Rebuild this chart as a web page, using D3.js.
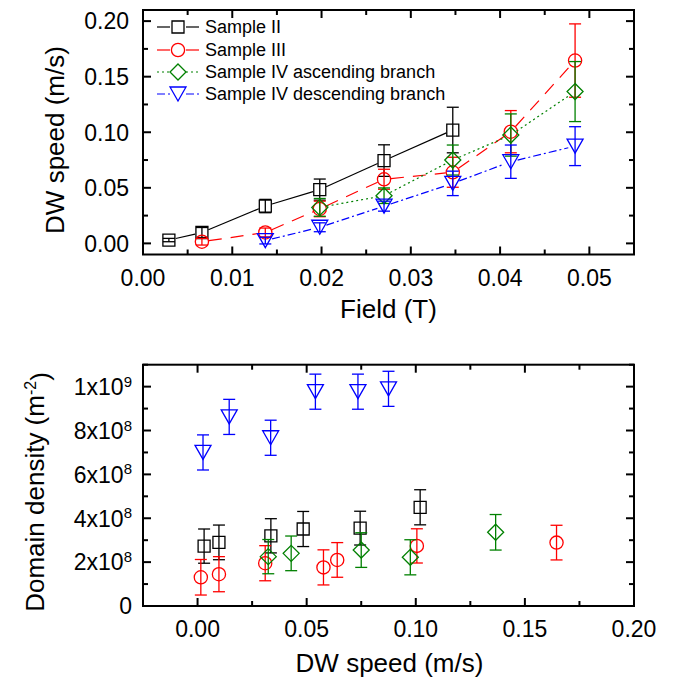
<!DOCTYPE html>
<html>
<head>
<meta charset="utf-8">
<script src="https://cdn.jsdelivr.net/npm/d3@7"></script>
<style>
  body { margin: 0; background: #fff; }
  svg { font-family: 'Liberation Sans', Arial, sans-serif; }
</style>
</head>
<body>
<div id="chart"></div>
<script>
'use strict';

//sample II  (field in T, speed in m/s, density in m^-2)
let fieldII     = [0.0029, 0.0066, 0.0137, 0.0198, 0.0270, 0.0347];
let speedII     = [0.0030, 0.0098, 0.0336, 0.0484, 0.0745, 0.1020];
let speedErrII  = [0.0015, 0.0045, 0.0060, 0.0095, 0.0142, 0.0205];
let densII      = [2.73e8, 2.90e8, 3.20e8, 3.51e8, 3.55e8, 4.50e8];
let densErrII   = [0.78e8, 0.79e8, 0.78e8, 0.80e8, 0.77e8, 0.80e8];

//sample III
let fieldIII    = [0.0066, 0.0137, 0.0198, 0.0270, 0.0347, 0.0412, 0.0484];
let speedIII    = [0.0015, 0.0098, 0.0310, 0.0577, 0.0640, 0.1005, 0.1645];
let speedErrIII = [0.0030, 0.0040, 0.0070, 0.0090, 0.0135, 0.0190, 0.0330];
let densIII     = [1.31e8, 1.45e8, 1.95e8, 1.76e8, 2.10e8, 2.74e8, 2.89e8];
let densErrIII  = [0.81e8, 0.80e8, 0.80e8, 0.80e8, 0.79e8, 0.78e8, 0.79e8];

//sample IV ascending branch
let fieldIVa    = [0.0198, 0.0270, 0.0347, 0.0412, 0.0484];
let speedIVa    = [0.0324, 0.0429, 0.0750, 0.0975, 0.1366];
let speedErrIVa = [0.0080, 0.0070, 0.0135, 0.0190, 0.0270];
let densIVa     = [2.25e8, 2.40e8, 2.55e8, 2.22e8, 3.36e8];
let densErrIVa  = [0.78e8, 0.79e8, 0.79e8, 0.80e8, 0.81e8];

//sample IV descending branch
let fieldIVd    = [0.0137, 0.0198, 0.0270, 0.0347, 0.0412, 0.0484];
let speedIVd    = [0.0025, 0.0145, 0.0335, 0.0540, 0.0735, 0.0875];
let speedErrIVd = [0.0030, 0.0040, 0.0045, 0.0110, 0.0150, 0.0175];
let densIVd     = [7.00e8, 8.62e8, 7.67e8, 9.77e8, 9.77e8, 9.90e8];
let densErrIVd  = [0.80e8, 0.80e8, 0.80e8, 0.80e8, 0.80e8, 0.80e8];

//axis ticks
let fieldTicks  = [0, 0.01, 0.02, 0.03, 0.04, 0.05];
let speedTicks  = [0, 0.05, 0.10, 0.15, 0.20];
let speedTicksB = [0, 0.05, 0.10, 0.15, 0.20];
let densTicks   = [0, 2e8, 4e8, 6e8, 8e8, 1e9];
let densLabels  = [['0', ''], ['2x10', '8'], ['4x10', '8'], ['6x10', '8'], ['8x10', '8'], ['1x10', '9']];

let seriesNames = ['Sample II', 'Sample III', 'Sample IV ascending branch', 'Sample IV descending branch'];

let series = [
  {name: seriesNames[0], field: fieldII,  speed: speedII,  sErr: speedErrII,  dens: densII,  dErr: densErrII,  color: '#000000', shape: 'square',   dash: null},
  {name: seriesNames[1], field: fieldIII, speed: speedIII, sErr: speedErrIII, dens: densIII, dErr: densErrIII, color: '#ff0000', shape: 'circle',   dash: '13,9'},
  {name: seriesNames[2], field: fieldIVa, speed: speedIVa, sErr: speedErrIVa, dens: densIVa, dErr: densErrIVa, color: '#008000', shape: 'diamond',  dash: '2,3'},
  {name: seriesNames[3], field: fieldIVd, speed: speedIVd, sErr: speedErrIVd, dens: densIVd, dErr: densErrIVd, color: '#0000ff', shape: 'triangle', dash: '8,3,2,3'}
];

let svg = d3.select('#chart').append('svg').attr('width', 676).attr('height', 681);

//scales
let xTop = d3.scaleLinear().domain([0, 0.055]).range([143, 634]);
let yTop = d3.scaleLinear().domain([-0.01, 0.21]).range([254.5, 10]);
let xBot = d3.scaleLinear().domain([-0.025, 0.20]).range([143, 634]);
let yBot = d3.scaleLinear().domain([0, 1.1e9]).range([606, 364.7]);

//marker outline centred on 0,0
function markerPath(shape) {
  if (shape === 'square')   return 'M-6,-6H6V6H-6Z';
  if (shape === 'circle')   return 'M6.6,0A6.6,6.6 0 1,1 -6.6,0A6.6,6.6 0 1,1 6.6,0Z';
  if (shape === 'diamond')  return 'M0,-8L8,0L0,8L-8,0Z';
  return 'M-8,-7L8,-7L0,7Z';   //down triangle
}

//mirrored frame with inward ticks
function drawFrame(x, y, xMajor, xMinor, yMajor, yMinor) {
  let x0 = x.range()[0], x1 = x.range()[1];
  let y0 = y.range()[0], y1 = y.range()[1];
  let g = svg.append('g');

  let ticks = [];
  xMajor.forEach(v => ticks.push({x1: x(v), y1: y0, x2: x(v), y2: y0 - 8}, {x1: x(v), y1: y1, x2: x(v), y2: y1 + 8}));
  xMinor.forEach(v => ticks.push({x1: x(v), y1: y0, x2: x(v), y2: y0 - 5}, {x1: x(v), y1: y1, x2: x(v), y2: y1 + 5}));
  yMajor.forEach(v => ticks.push({x1: x0, y1: y(v), x2: x0 + 8, y2: y(v)}, {x1: x1, y1: y(v), x2: x1 - 8, y2: y(v)}));
  yMinor.forEach(v => ticks.push({x1: x0, y1: y(v), x2: x0 + 5, y2: y(v)}, {x1: x1, y1: y(v), x2: x1 - 5, y2: y(v)}));

  g.selectAll('line').data(ticks).join('line')
    .attr('x1', d => d.x1).attr('y1', d => d.y1).attr('x2', d => d.x2).attr('y2', d => d.y2)
    .attr('stroke', 'black').attr('stroke-width', 2);

  g.append('rect').attr('x', x0).attr('y', y1).attr('width', x1 - x0).attr('height', y0 - y1)
    .attr('fill', 'none').attr('stroke', 'black').attr('stroke-width', 2);
}

//error bars + markers
function drawPoints(g, xs, ys, errs, x, y, s) {
  let pts = xs.map((v, i) => ({x: x(v), y: y(ys[i]), lo: y(ys[i] - errs[i]), hi: y(ys[i] + errs[i])}));
  let eb = g.append('g').attr('stroke', s.color).attr('stroke-width', 1.3);
  pts.forEach(p => {
    eb.append('line').attr('x1', p.x).attr('x2', p.x).attr('y1', p.lo).attr('y2', p.hi);
    eb.append('line').attr('x1', p.x - 6).attr('x2', p.x + 6).attr('y1', p.lo).attr('y2', p.lo);
    eb.append('line').attr('x1', p.x - 6).attr('x2', p.x + 6).attr('y1', p.hi).attr('y2', p.hi);
  });
  g.selectAll(null).data(pts).join('path')
    .attr('d', markerPath(s.shape))
    .attr('transform', d => `translate(${d.x},${d.y})`)
    .attr('fill', 'none').attr('stroke', s.color).attr('stroke-width', 1.3);
  return pts;
}

//line with a gap round each symbol (like origin does)
function drawGapLine(g, pts, s) {
  let gap = 7;
  for (let i = 0; i < pts.length - 1; i++) {
    let a = pts[i], b = pts[i + 1];
    let dx = b.x - a.x, dy = b.y - a.y;
    let len = Math.sqrt(dx * dx + dy * dy);
    if (len <= 2 * gap) continue;
    let ux = dx / len, uy = dy / len;
    g.append('line')
      .attr('x1', a.x + ux * gap).attr('y1', a.y + uy * gap)
      .attr('x2', b.x - ux * gap).attr('y2', b.y - uy * gap)
      .attr('stroke', s.color).attr('stroke-width', 1.2)
      .attr('stroke-dasharray', s.dash);
  }
}

/*------------------------------------- top panel : speed vs field -------------------------------------*/
let gTop = svg.append('g');
series.forEach(s => {
  let pts = s.field.map((v, i) => ({x: xTop(v), y: yTop(s.speed[i])}));
  drawGapLine(gTop, pts, s);
  drawPoints(gTop, s.field, s.speed, s.sErr, xTop, yTop, s);
});

drawFrame(xTop, yTop, fieldTicks, [0.005, 0.015, 0.025, 0.035, 0.045], speedTicks, [0.025, 0.075, 0.125, 0.175]);

//tick labels
svg.append('g').selectAll('text').data(fieldTicks).join('text')
  .attr('x', d => xTop(d)).attr('y', 285.5).attr('text-anchor', 'middle')
  .style('font-size', '23px').text(d => d3.format('.2f')(d));
svg.append('g').selectAll('text').data(speedTicks).join('text')
  .attr('x', 129).attr('y', d => yTop(d)).attr('dy', '0.36em').attr('text-anchor', 'end')
  .style('font-size', '23px').text(d => d3.format('.2f')(d));

svg.append('text').attr('x', 388.5).attr('y', 318).attr('text-anchor', 'middle')
  .style('font-size', '26px').text('Field (T)');
svg.append('text').attr('transform', 'translate(64,140) rotate(-90)').attr('text-anchor', 'middle')
  .style('font-size', '26px').text('DW speed (m/s)');

//legend
let legY = [27, 50, 72, 94];
series.forEach((s, i) => {
  let lg = svg.append('g').attr('transform', `translate(0,${legY[i]})`);
  lg.append('line').attr('x1', 157).attr('x2', 170).attr('y1', 0).attr('y2', 0)
    .attr('stroke', s.color).attr('stroke-width', 1.2).attr('stroke-dasharray', s.dash === '13,9' ? null : s.dash);
  lg.append('line').attr('x1', 186).attr('x2', 199).attr('y1', 0).attr('y2', 0)
    .attr('stroke', s.color).attr('stroke-width', 1.2).attr('stroke-dasharray', s.dash === '13,9' ? null : s.dash);
  lg.append('path').attr('d', markerPath(s.shape)).attr('transform', 'translate(178,0)')
    .attr('fill', 'none').attr('stroke', s.color).attr('stroke-width', 1.3);
  lg.append('text').attr('x', 205).attr('y', 0).attr('dy', '0.36em')
    .style('font-size', '18px').text(s.name);
});

/*------------------------------------- bottom panel : density vs speed -------------------------------------*/
let gBot = svg.append('g');
series.forEach(s => {
  drawPoints(gBot, s.speed, s.dens, s.dErr, xBot, yBot, s);
});

drawFrame(xBot, yBot, speedTicksB, [-0.025, 0.025, 0.075, 0.125, 0.175], densTicks, [1e8, 3e8, 5e8, 7e8, 9e8, 1.1e9]);

svg.append('g').selectAll('text').data(speedTicksB).join('text')
  .attr('x', d => xBot(d)).attr('y', 637).attr('text-anchor', 'middle')
  .style('font-size', '23px').text(d => d3.format('.2f')(d));

let yLab = svg.append('g').selectAll('text').data(densTicks).join('text')
  .attr('x', 132).attr('y', d => yBot(d)).attr('dy', '0.36em').attr('text-anchor', 'end')
  .style('font-size', '23px');
yLab.each(function(d, i) {
  let t = d3.select(this);
  t.append('tspan').text(densLabels[i][0]);
  if (densLabels[i][1] !== '') {
    t.append('tspan').attr('dy', '-0.55em').style('font-size', '15px').text(densLabels[i][1]);
  }
});

svg.append('text').attr('x', 389.5).attr('y', 671.5).attr('text-anchor', 'middle')
  .style('font-size', '26px').text('DW speed (m/s)');

let dl = svg.append('text').attr('transform', 'translate(44,492) rotate(-90)').attr('text-anchor', 'middle')
  .style('font-size', '26px');
dl.append('tspan').text('Domain density (m');
dl.append('tspan').attr('dy', '-0.5em').style('font-size', '16px').text('-2');
dl.append('tspan').attr('dy', '0.5em').text(')');
</script>
</body>
</html>
